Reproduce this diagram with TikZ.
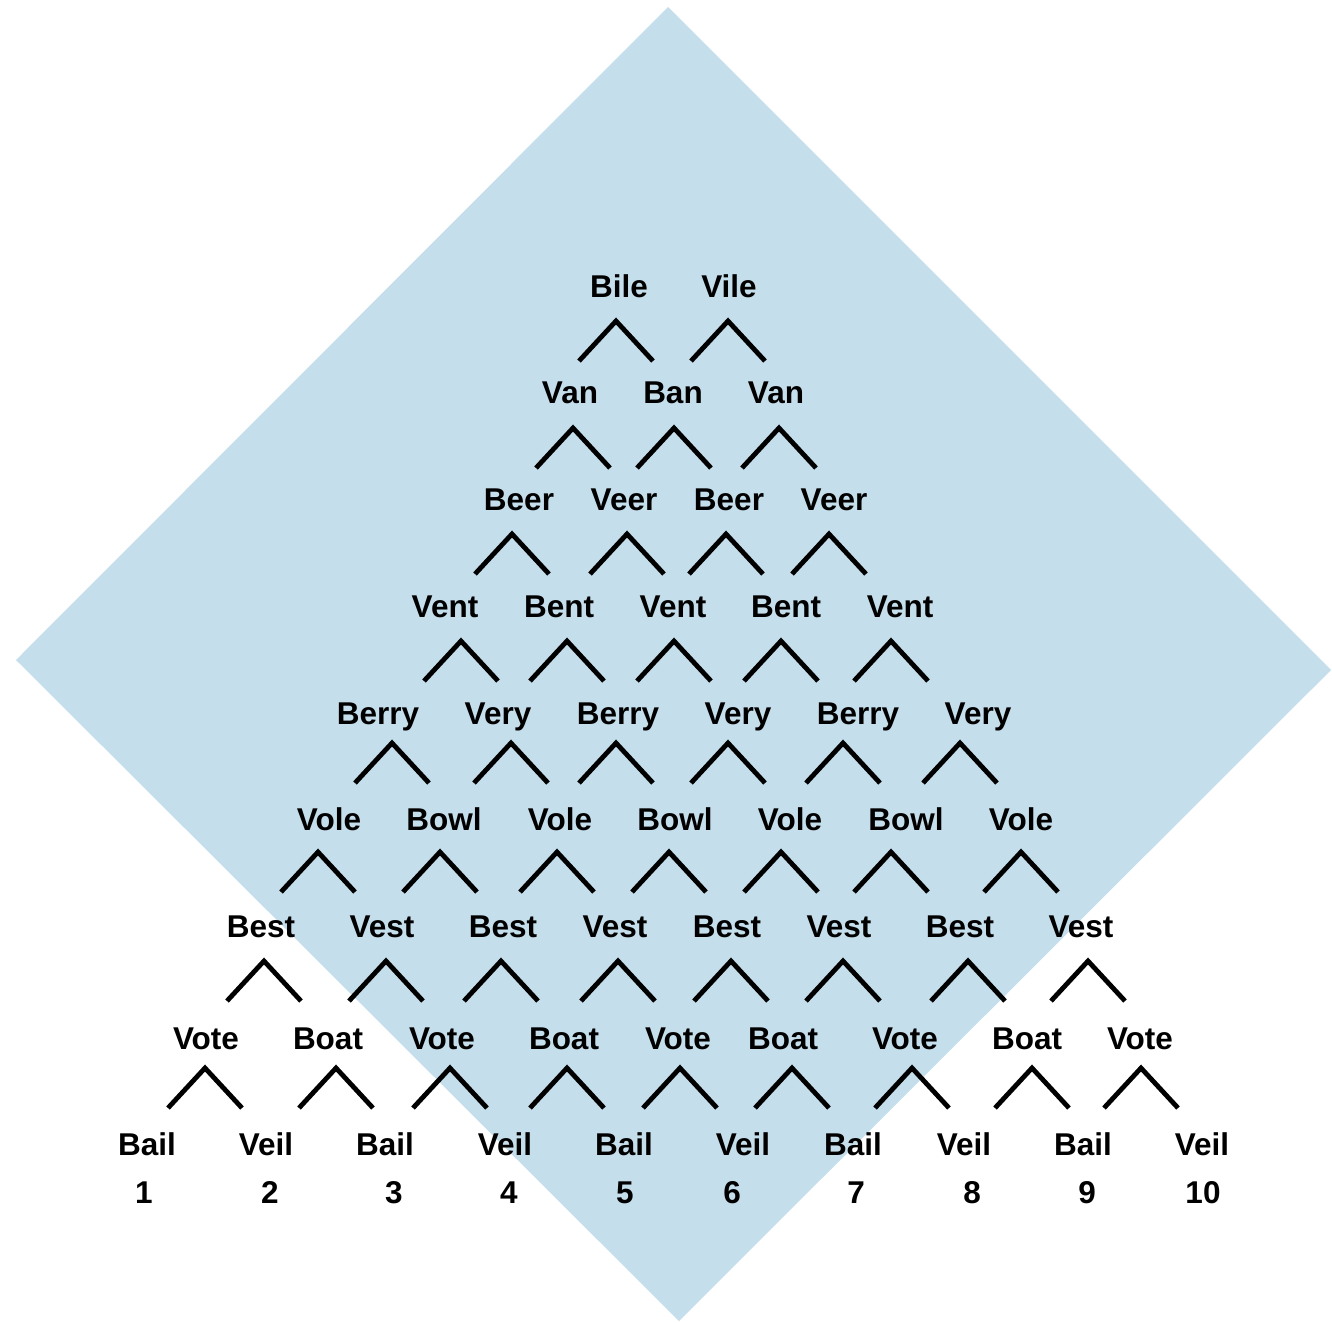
\documentclass[tikz,border=0pt]{standalone}
\usepackage{fontspec}
\setmainfont{Liberation Sans}
\definecolor{diamondblue}{RGB}{197,222,236}
\begin{document}
\begin{tikzpicture}[x=1pt,y=-1pt,
  word/.style={font=\bfseries\fontsize{31.5}{36}\selectfont, anchor=base, inner sep=0pt, text=black},
  caret/.style={line width=4.8pt, line join=miter, line cap=butt, draw=black},
]
\useasboundingbox (0,0) rectangle (1332,1322);
\fill[diamondblue] (668,7) -- (1331,670) -- (679,1321) -- (16,660) -- cycle;

% words: row / baseline / list of word:x
\foreach \r/\yb/\lst in {
  1/297/{Bile/619, Vile/729},
  2/403/{Van/570, Ban/673, Van/776},
  3/510/{Beer/519, Veer/624, Beer/729, Veer/834},
  4/617/{Vent/445, Bent/559, Vent/673, Bent/786, Vent/900},
  5/724/{Berry/378, Very/498, Berry/618, Very/738, Berry/858, Very/978},
  6/830/{Vole/329, Bowl/444, Vole/560, Bowl/675, Vole/790, Bowl/906, Vole/1021},
  7/937/{Best/261, Vest/382, Best/503, Vest/615, Best/727, Vest/839, Best/960, Vest/1081},
  8/1049/{Vote/206, Boat/328, Vote/442, Boat/564, Vote/678, Boat/783, Vote/905, Boat/1027, Vote/1140},
  9/1155/{Bail/147, Veil/266, Bail/385, Veil/505, Bail/624, Veil/743, Bail/853, Veil/964, Bail/1083, Veil/1202},
  10/1203/{1/144, 2/270, 3/394, 4/509, 5/625, 6/732, 7/856, 8/972, 9/1087, 10/1203}}{
  \foreach \t/\x [count=\i] in \lst {
    \node[word] (w-\r-\i) at (\x,\yb) {\t};
  }
}

% carets: top of apex / bottom of legs / list of apex x
\foreach \r/\yt/\ybot/\lst in {
  1/321/361/{616,728},
  2/428/468/{573,674,779},
  3/534/574/{512,627,726,829},
  4/641/681/{461,567,674,781,891},
  5/743/783/{392,511,616,728,843,960},
  6/852/892/{318,440,557,669,781,891,1021},
  7/961/1001/{264,386,501,618,731,843,968,1088},
  8/1068/1108/{205,336,450,567,680,792,912,1032,1141}}{
  \foreach \x [count=\i] in \lst {
    \coordinate (c-\r-\i-l) at (\x-37,\ybot);
    \coordinate (c-\r-\i-t) at (\x,\yt);
    \coordinate (c-\r-\i-r) at (\x+37,\ybot);
    \draw[caret] (c-\r-\i-l) -- (c-\r-\i-t) -- (c-\r-\i-r);
  }
}
\end{tikzpicture}
\end{document}
